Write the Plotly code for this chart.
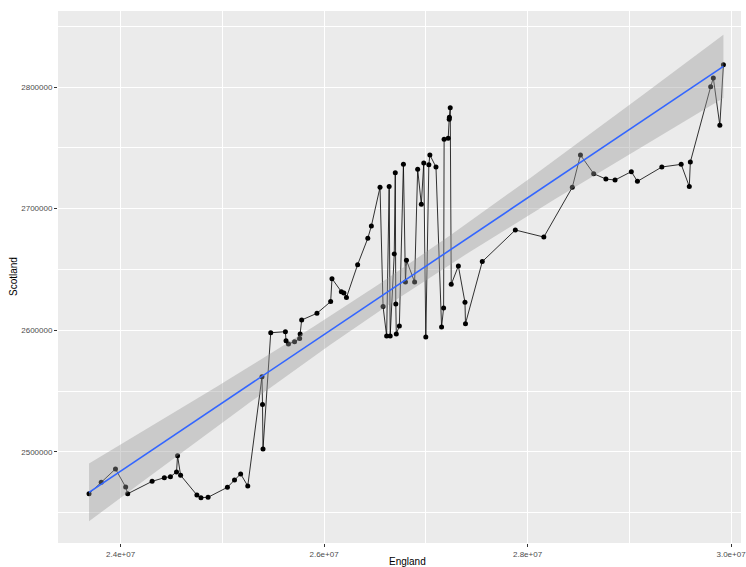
import numpy as np
import plotly.graph_objects as go

# England vs Scotland population, one point per period (sorted by England)
england = [
    23.69e6, 23.81e6, 23.95e6, 24.05e6, 24.07e6, 24.31e6, 24.43e6, 24.49e6,
    24.55e6, 24.56e6, 24.59e6, 24.75e6, 24.79e6, 24.86e6, 25.05e6, 25.12e6,
    25.18e6, 25.25e6, 25.39e6, 25.395e6, 25.40e6, 25.476e6, 25.62e6, 25.626e6,
    25.65e6, 25.71e6, 25.76e6, 25.765e6, 25.78e6, 25.93e6, 26.065e6, 26.078e6,
    26.17e6, 26.195e6, 26.22e6, 26.33e6, 26.43e6, 26.465e6, 26.55e6, 26.58e6,
    26.615e6, 26.64e6, 26.65e6, 26.69e6, 26.70e6, 26.705e6, 26.71e6, 26.74e6,
    26.78e6, 26.80e6, 26.81e6, 26.89e6, 26.92e6, 26.956e6, 26.98e6, 27.00e6,
    27.03e6, 27.04e6, 27.10e6, 27.155e6, 27.175e6, 27.18e6, 27.22e6, 27.23e6,
    27.232e6, 27.24e6, 27.25e6, 27.32e6, 27.385e6, 27.39e6, 27.555e6, 27.88e6,
    28.16e6, 28.44e6, 28.52e6, 28.65e6, 28.77e6, 28.86e6, 29.02e6, 29.08e6,
    29.32e6, 29.51e6, 29.59e6, 29.60e6, 29.80e6, 29.826e6, 29.89e6, 29.925e6,
]
scotland = [
    2465500, 2474900, 2485900, 2471000, 2465500, 2475700, 2478700, 2479500,
    2483400, 2496800, 2480700, 2464500, 2462300, 2462600, 2470800, 2476800,
    2481800, 2471900, 2561800, 2539000, 2502300, 2597900, 2598800, 2591400,
    2588700, 2590600, 2593100, 2596900, 2608400, 2613900, 2623500, 2642400,
    2631700, 2630600, 2626800, 2653900, 2675600, 2685700, 2717500, 2619400,
    2595200, 2718100, 2595200, 2662700, 2729500, 2621600, 2596900, 2603500,
    2736400, 2639600, 2657500, 2639600, 2732300, 2703500, 2737500, 2594400,
    2736100, 2744100, 2734200, 2602600, 2618200, 2757000, 2757800, 2773400,
    2775100, 2783000, 2637700, 2652800, 2622900, 2605400, 2656400, 2682400,
    2676600, 2717500, 2744100, 2728700, 2724300, 2723500, 2730400, 2722400,
    2734200, 2736400, 2718100, 2738300, 2800300, 2807400, 2768500, 2818300,
]

x_tickvals = [24e6, 26e6, 28e6, 30e6]
x_ticktext = ["2.4e+07", "2.6e+07", "2.8e+07", "3.0e+07"]
y_tickvals = [2500000, 2600000, 2700000, 2800000]
y_ticktext = ["2500000", "2600000", "2700000", "2800000"]

# Linear fit with 95% confidence band of the mean
x = np.asarray(england, dtype=float)
y = np.asarray(scotland, dtype=float)
n = len(x)
slope, intercept = np.polyfit(x, y, 1)
resid = y - (slope * x + intercept)
s = np.sqrt(np.sum(resid ** 2) / (n - 2))
xbar = x.mean()
sxx = np.sum((x - xbar) ** 2)
T975 = 1.988  # Student t quantile, df = n - 2

xs = np.linspace(x.min(), x.max(), 80)
fit = slope * xs + intercept
se = s * np.sqrt(1.0 / n + (xs - xbar) ** 2 / sxx)
lower = fit - T975 * se
upper = fit + T975 * se

fig = go.Figure()

fig.add_trace(go.Scatter(
    x=england, y=scotland, mode="lines+markers",
    line=dict(color="#000000", width=0.8),
    marker=dict(color="#000000", size=5),
    hoverinfo="skip", showlegend=False,
))

fig.add_trace(go.Scatter(
    x=np.concatenate([xs, xs[::-1]]), y=np.concatenate([upper, lower[::-1]]),
    mode="lines", fill="toself", fillcolor="rgba(153,153,153,0.4)",
    line=dict(width=0), hoverinfo="skip", showlegend=False,
))

fig.add_trace(go.Scatter(
    x=xs, y=fit, mode="lines",
    line=dict(color="#3366FF", width=1.6),
    hoverinfo="skip", showlegend=False,
))

tick_font = dict(family="Liberation Sans, Arial, sans-serif", size=8, color="#4D4D4D")

fig.update_layout(
    width=746, height=567,
    margin=dict(l=58, r=0, t=11, b=24),
    paper_bgcolor="#FFFFFF",
    plot_bgcolor="#EBEBEB",
    font=dict(family="Liberation Sans, Arial, sans-serif"),
    xaxis=dict(
        range=[23.385e6, 30.098e6],
        tickvals=x_tickvals, ticktext=x_ticktext,
        ticks="outside", ticklen=3, tickcolor="#333333", tickwidth=1,
        tickfont=tick_font, ticklabeloverflow="allow",
        showgrid=True, gridcolor="#FFFFFF", gridwidth=1,
        minor=dict(dtick=1e6, tick0=23e6, showgrid=True, gridcolor="#FFFFFF", gridwidth=0.5),
        zeroline=False, showline=False,
    ),
    yaxis=dict(
        range=[2425000, 2862500],
        tickvals=y_tickvals, ticktext=y_ticktext,
        ticks="outside", ticklen=3, tickcolor="#333333", tickwidth=1,
        tickfont=tick_font,
        showgrid=True, gridcolor="#FFFFFF", gridwidth=1,
        minor=dict(dtick=50000, tick0=2450000, showgrid=True, gridcolor="#FFFFFF", gridwidth=0.5),
        zeroline=False, showline=False,
    ),
    annotations=[
        dict(text="England", xref="paper", yref="paper", x=0.5116, y=0,
             yshift=-11, xanchor="center", yanchor="top", showarrow=False,
             font=dict(family="Liberation Sans, Arial, sans-serif", size=10, color="#000000")),
        dict(text="Scotland", xref="paper", yref="paper", x=0, y=0.5,
             xshift=-45, xanchor="center", yanchor="middle", textangle=-90, showarrow=False,
             font=dict(family="Liberation Sans, Arial, sans-serif", size=10, color="#000000")),
    ],
)

fig.write_html("out.html")
